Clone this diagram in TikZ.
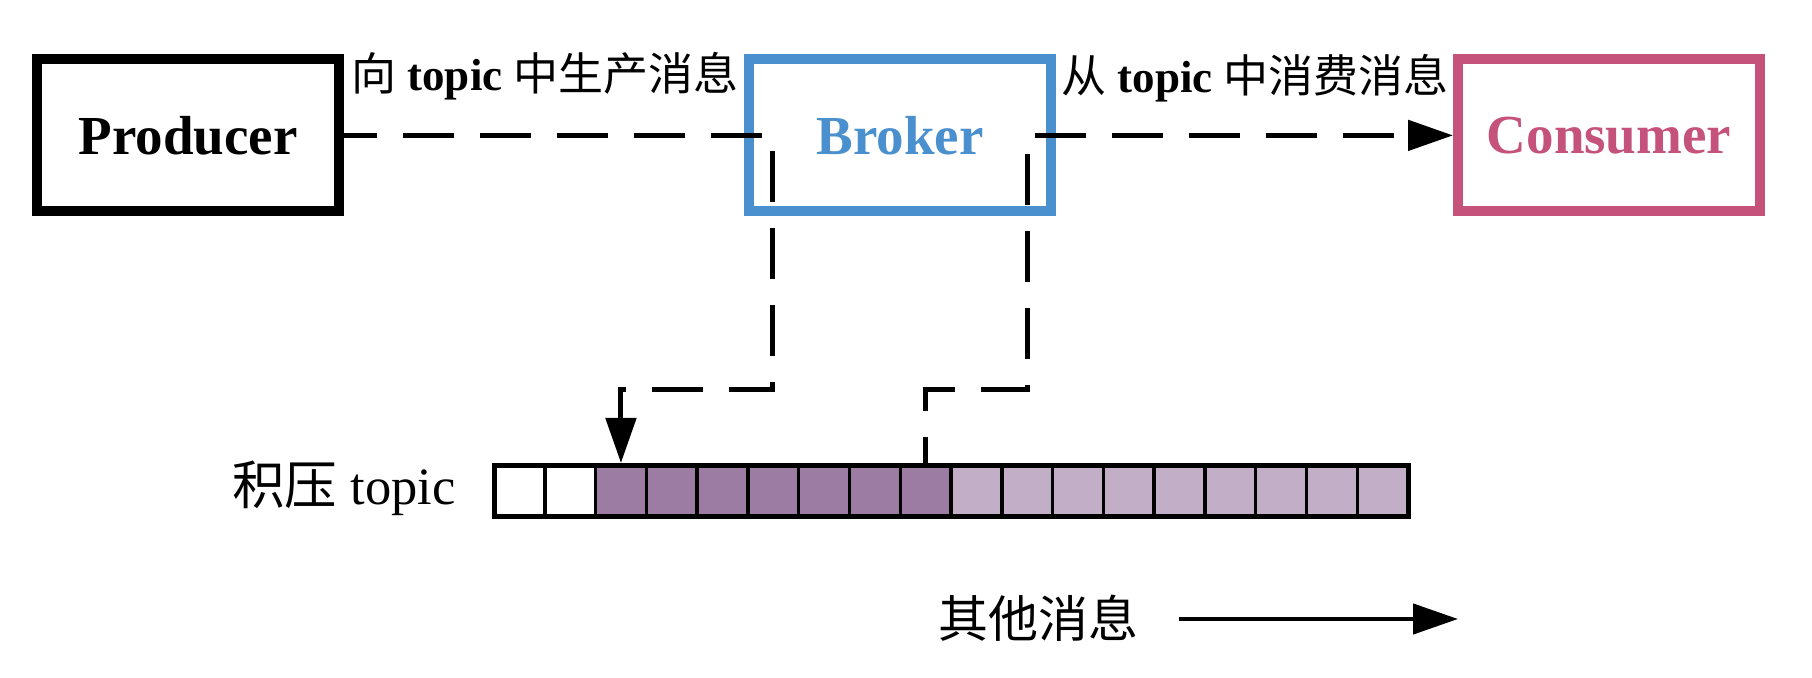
\documentclass[tikz,border=0pt]{standalone}
\usepackage{fontspec}
\setmainfont{Liberation Serif}
\newfontfamily\cjk{Noto Sans CJK SC}
\usetikzlibrary{arrows.meta}
\definecolor{brokerblue}{RGB}{74,144,206}
\definecolor{consred}{RGB}{196,82,122}
\definecolor{darkpurple}{RGB}{156,124,163}
\definecolor{lightpurple}{RGB}{195,174,200}
\begin{document}
\begin{tikzpicture}[x=0.4pt,y=-0.4pt,
  agentbox/.style={draw, line width=4pt, minimum width=120.8pt, minimum height=60.8pt, inner sep=0pt, font=\fontsize{22pt}{24pt}\selectfont\bfseries},
  msgcell/.style={draw, line width=1.4pt, minimum width=20.31pt, minimum height=20pt, inner sep=0pt, outer sep=0pt},
  flowline/.style={line width=2pt, dash pattern=on 20.4pt off 10.4pt},
  headarrow/.style={-{Triangle[length=18pt,width=12pt]}},
  lbl/.style={inner sep=0pt, font=\fontsize{18pt}{20pt}\selectfont}
]
\useasboundingbox (0,0) rectangle (1812,678);

% agents
\node[agentbox] (prod) at (188,135.4) {Producer};
\node[agentbox, draw=brokerblue, text=brokerblue] (broker) at (900,135.4) {Broker};
\node[agentbox, draw=consred, text=consred] (cons) at (1609,135.4) {Consumer};

% labels
\node[lbl] (prodlbl) at (545,76) {{\cjk 向} {\bfseries topic} {\cjk 中生产消息}};
\node[lbl] (conslbl) at (1255,78) {{\cjk 从} {\bfseries topic} {\cjk 中消费消息}};

% topic bar
\foreach \i in {1,2} {
  \node[msgcell, fill=white] (c\i) at ({494+(\i-0.5)*50.78},491) {};
}
\foreach \i in {3,...,9} {
  \node[msgcell, fill=darkpurple] (c\i) at ({494+(\i-0.5)*50.78},491) {};
}
\foreach \i in {10,...,18} {
  \node[msgcell, fill=lightpurple] (c\i) at ({494+(\i-0.5)*50.78},491) {};
}
\draw[line width=2pt] (c1.north west) rectangle (c18.south east);
\node[lbl, font=\fontsize{21pt}{23pt}\selectfont, anchor=east] (topiclbl) at (456,488) {{\cjk 积压} topic};

% flows
\draw[flowline, dash phase=7.2pt, headarrow, shorten >=1.2pt] (prod.east) -| (772,390) -| (c3.north);
\draw[flowline, dash phase=8.9pt, headarrow] (c9.north) |- (1027,390) |- (cons.west);

% other messages
\node[lbl, font=\fontsize{20pt}{22pt}\selectfont] (other) at (1038,618) {\cjk 其他消息};
\coordinate (oa) at (1179,619);
\coordinate (ob) at (1458,619);
\draw[line width=1.8pt, headarrow] (oa) -- (ob);
\end{tikzpicture}
\end{document}
